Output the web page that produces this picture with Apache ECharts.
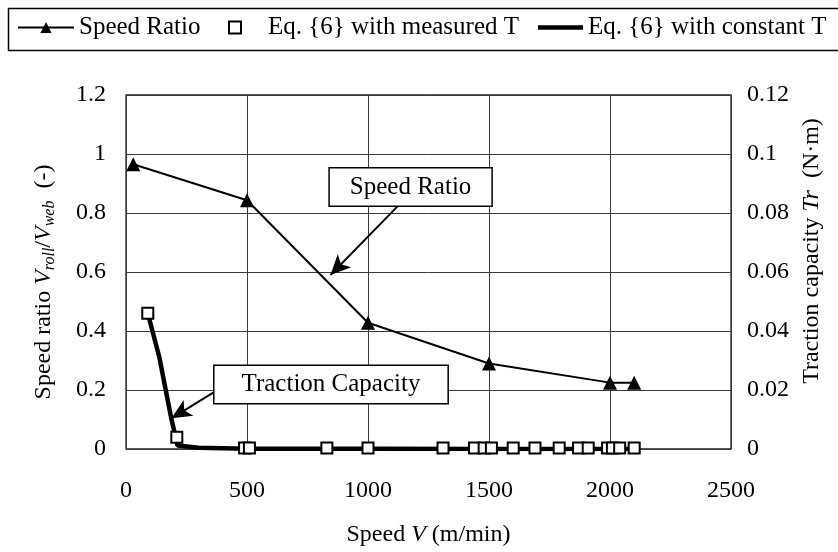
<!DOCTYPE html>
<html>
<head>
<meta charset="utf-8">
<script src="https://cdn.jsdelivr.net/npm/echarts@6/dist/echarts.min.js"></script>
<style>
html, body { margin: 0; background: #fff; }
#chart { width: 838px; height: 552px; }
</style>
</head>
<body>
<div id="chart"></div>
<script>
// speed ratio (left axis)
const ratioSpeed = [30, 500, 1000, 1500, 2000, 2100]
const ratioValue = [0.965, 0.843, 0.428, 0.29, 0.225, 0.225]
// Eq.{6} with measured T (right axis)
const measSpeed = [90, 210, 490, 510, 830, 1000, 1310, 1440, 1480, 1510, 1600, 1690, 1790, 1870, 1910, 1990, 2010, 2040, 2100]
const measTr = [0.046, 0.004, 0.0003, 0.0003, 0.0003, 0.0003, 0.0003, 0.0003, 0.0003, 0.0003, 0.0003, 0.0003, 0.0003, 0.0003, 0.0003, 0.0003, 0.0003, 0.0003, 0.0003]
// Eq.{6} with constant T (right axis)
const constSpeed = [90, 138, 187, 213, 300, 500, 1000, 1500, 2100]
const constTr = [0.046, 0.031, 0.0104, 0.0012, 0.0004, 0.0001, 0.00005, 0, 0]

const xTicks = [0, 500, 1000, 1500, 2000, 2500]
const leftTicks = [0, 0.2, 0.4, 0.6, 0.8, 1, 1.2]
const rightTicks = [0, 0.02, 0.04, 0.06, 0.08, 0.1, 0.12]

// callouts, in speed / speed-ratio units (arrow runs from box edge to tip)
const ratioNote = { text: 'Speed Ratio', at: [1176, 0.888], from: [1126, 0.826], to: [845, 0.59] }
const tracNote = { text: 'Traction Capacity', at: [847, 0.219], from: [362, 0.192], to: [188, 0.104] }

const FONT = 'Liberation Serif'
const zip = (a, b) => a.map((v, i) => [v, b[i]])
const step = t => t[1] - t[0]

const chart = echarts.init(document.getElementById('chart'), null, { renderer: 'canvas' })

const txt = { fontFamily: FONT, fontSize: 24, color: '#000' }
const rich = {
  t: { fontFamily: FONT, fontSize: 24, color: '#000' },
  i: { fontFamily: FONT, fontSize: 24, color: '#000', fontStyle: 'italic' },
  s: { fontFamily: FONT, fontSize: 16, color: '#000', fontStyle: 'italic', padding: [12, 0, 0, 0] }
}
const legendBase = {
  top: 15, padding: 0, itemHeight: 14, itemGap: 0, selectedMode: false,
  textStyle: { fontFamily: FONT, fontSize: 25, color: '#000' }
}

chart.setOption({
  animation: false,
  backgroundColor: '#fff',
  legend: [
    { ...legendBase, left: 17, itemWidth: 56, data: ['Speed Ratio'] },
    { ...legendBase, left: 228, itemWidth: 56, itemHeight: 12,
      data: [{ name: 'Eq. {6} with measured T', icon: 'path://M0,0L10,0L10,10L0,10Z' }] },
    { ...legendBase, left: 538, itemWidth: 45,
      data: [{ name: 'Eq. {6} with constant T', icon: 'path://M0,0L45,0L45,4.5L0,4.5Z' }] }
  ],
  grid: { left: 126, right: 107, top: 95, bottom: 101, show: true, borderColor: '#222', borderWidth: 1.3 },
  xAxis: {
    type: 'value', min: xTicks[0], max: xTicks[xTicks.length - 1], interval: step(xTicks),
    name: '{t|Speed }{i|V}{t| (m/min)}', nameLocation: 'middle', nameGap: 74,
    nameTextStyle: { ...txt, rich },
    axisLine: { show: false }, axisTick: { show: false },
    axisLabel: { ...txt, margin: 30, formatter: v => String(v) },
    splitLine: { lineStyle: { color: '#3a3a3a', width: 1 } }
  },
  yAxis: [
    {
      type: 'value', min: leftTicks[0], max: leftTicks[leftTicks.length - 1], interval: step(leftTicks),
      name: '{t|Speed ratio }{i|V}{s|roll}{t|/}{i|V}{s|web}{t|  (-)}', nameLocation: 'middle', nameRotate: 90, nameGap: 68,
      nameTextStyle: { ...txt, rich, padding: [0, 20, 0, 0] },
      axisLine: { show: false }, axisTick: { show: false },
      axisLabel: { ...txt, margin: 20, formatter: v => String(v) },
      splitLine: { lineStyle: { color: '#3a3a3a', width: 1 } }
    },
    {
      type: 'value', position: 'right', min: rightTicks[0], max: rightTicks[rightTicks.length - 1], interval: step(rightTicks),
      name: '{t|Traction capacity }{i|Tr}{t|  (N·m)}', nameLocation: 'middle', nameRotate: 90, nameGap: 63,
      nameTextStyle: { ...txt, rich, padding: [0, 0, 0, 42] },
      axisLine: { show: false }, axisTick: { show: false },
      axisLabel: { ...txt, margin: 16, formatter: v => String(+v.toFixed(2)) },
      splitLine: { show: false }
    }
  ],
  series: [
    {
      name: 'Speed Ratio', type: 'line', yAxisIndex: 0, z: 4,
      data: zip(ratioSpeed, ratioValue),
      symbol: 'triangle', symbolSize: 14, showAllSymbol: true,
      lineStyle: { color: '#000', width: 2 }, itemStyle: { color: '#000' },
      markLine: {
        silent: true, animation: false, symbol: ['none', 'arrow'], symbolSize: [14, 20],
        label: { show: false }, lineStyle: { color: '#000', width: 2, type: 'solid' },
        emphasis: { disabled: true },
        data: [
          [{ coord: ratioNote.from }, { coord: ratioNote.to }],
          [{ coord: tracNote.from }, { coord: tracNote.to }]
        ]
      }
    },
    {
      name: 'Eq. {6} with measured T', type: 'scatter', yAxisIndex: 1, z: 5,
      data: zip(measSpeed, measTr),
      symbol: 'rect', symbolSize: 11,
      itemStyle: { color: '#fff', borderColor: '#000', borderWidth: 2, opacity: 1 }
    },
    {
      name: 'Eq. {6} with constant T', type: 'line', yAxisIndex: 1, z: 3,
      data: zip(constSpeed, constTr),
      symbol: 'none', showSymbol: false,
      lineStyle: { color: '#000', width: 4.5 }, itemStyle: { color: '#000' }
    }
  ]
})

function box(note, pad) {
  const p = chart.convertToPixel({ xAxisIndex: 0, yAxisIndex: 0 }, note.at)
  return {
    type: 'text', x: p[0], y: p[1], z: 100,
    style: {
      text: note.text, font: '25px "' + FONT + '"', fill: '#000',
      align: 'center', verticalAlign: 'middle',
      backgroundColor: '#fff', borderColor: '#000', borderWidth: 1.5, padding: pad
    }
  }
}

chart.setOption({
  graphic: [
    { type: 'rect', left: 6, top: 6, z: -1, shape: { width: 900, height: 42 }, style: { fill: 'none', stroke: '#000', lineWidth: 1.5 } },
    box(ratioNote, [6, 20, 6, 20]),
    box(tracNote, [6, 27, 6, 27])
  ]
})
</script>
</body>
</html>
